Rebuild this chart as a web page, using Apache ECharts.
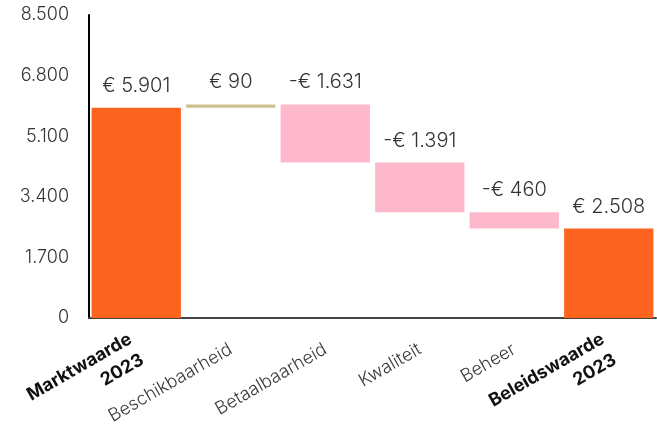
<!DOCTYPE html>
<html>
<head>
<meta charset="utf-8">
<script src="https://cdn.jsdelivr.net/npm/echarts@6/dist/echarts.min.js"></script>
<style>
  html, body { margin: 0; padding: 0; background: #fff; }
  #chart { width: 657px; height: 430px; }
</style>
</head>
<body>
<div id="chart"></div>
<script>
// Waterfall: from market value to policy value, 2023 (in euro)
const categories = ['Marktwaarde\n2023', 'Beschikbaarheid', 'Betaalbaarheid', 'Kwaliteit', 'Beheer', 'Beleidswaarde\n2023'];
// first and last entries are totals, the others are changes
const values = [5901, 90, -1631, -1391, -460, 2508];
const isTotal = [true, false, false, false, false, true];
const yTicks = [0, 1700, 3400, 5100, 6800, 8500];

const ORANGE = '#FD6420';
const TAN = '#CDC08F';
const PINK = '#FDB9CB';

function fmtNum(n) {
  return String(Math.abs(n)).replace(/\B(?=(\d{3})+(?!\d))/g, '.');
}
function fmtEuro(n) {
  return (n < 0 ? '-' : '') + '€ ' + fmtNum(n);
}

// invisible base + visible segment for each category
const base = [];
const seg = [];
let running = 0;
values.forEach((v, i) => {
  if (isTotal[i]) {
    base.push(0);
    seg.push(v);
    running = v;
  } else {
    const next = running + v;
    base.push(Math.min(running, next));
    seg.push(Math.abs(v));
    running = next;
  }
});

const segColors = values.map((v, i) => isTotal[i] ? ORANGE : (v >= 0 ? TAN : PINK));

const FONT = 'Inter, "Liberation Sans", sans-serif';

const chart = echarts.init(document.getElementById('chart'), null, { renderer: 'canvas' });
chart.setOption({
  animation: false,
  backgroundColor: '#ffffff',
  grid: { left: 89, right: 1, top: 15, bottom: 112, outerBoundsMode: 'none', containLabel: false },
  xAxis: {
    type: 'category',
    data: categories.map((c, i) => ({
      value: c,
      textStyle: isTotal[i]
        ? { fontWeight: 'bold', color: '#111', lineHeight: 24 }
        : { fontWeight: 300, color: '#3a3a3a' }
    })),
    axisLine: { show: true, lineStyle: { color: '#444', width: 2 } },
    axisTick: { show: false },
    axisLabel: {
      interval: 0,
      rotate: 30,
      margin: 30,
      fontSize: 18,
      fontFamily: FONT,
      color: '#3a3a3a'
    }
  },
  yAxis: {
    type: 'value',
    min: yTicks[0],
    max: yTicks[yTicks.length - 1],
    interval: yTicks[1] - yTicks[0],
    axisLine: { show: true, lineStyle: { color: '#000', width: 2 } },
    axisTick: { show: false },
    splitLine: { show: false },
    axisLabel: {
      margin: 20,
      fontSize: 18,
      fontFamily: FONT,
      fontWeight: 300,
      color: '#333',
      formatter: v => fmtNum(v)
    }
  },
  series: [
    {
      type: 'bar',
      stack: 'wf',
      data: base,
      itemStyle: { color: 'transparent' },
      emphasis: { disabled: true },
      silent: true
    },
    {
      type: 'bar',
      stack: 'wf',
      barCategoryGap: '5.5%',
      data: seg.map((s, i) => ({ value: s, itemStyle: { color: segColors[i] } })),
      label: {
        show: true,
        position: 'top',
        distance: 12,
        fontSize: 20,
        fontFamily: FONT,
        fontWeight: 300,
        color: '#333',
        formatter: p => fmtEuro(values[p.dataIndex])
      }
    }
  ]
});
</script>
</body>
</html>
